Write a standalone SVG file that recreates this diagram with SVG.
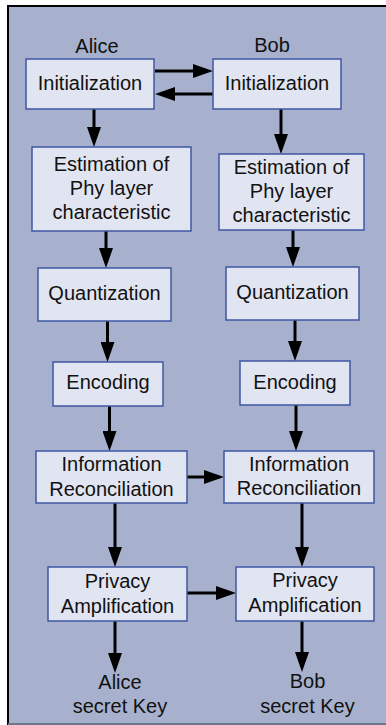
<svg xmlns="http://www.w3.org/2000/svg" width="386" height="725" viewBox="0 0 386 725">
<defs>
<style>
.bg{fill:#a7b1cd}
.box{fill:#e1e5f1;stroke:#3f57a3;stroke-width:1.5}
text{font-family:"Liberation Sans",Arial,sans-serif;font-size:20px;fill:#111;text-anchor:middle}
.c{stroke:#000;stroke-width:3;fill:none;marker-end:url(#ah)}
</style>
<marker id="ah" markerUnits="userSpaceOnUse" markerWidth="20" markerHeight="14" refX="0" refY="7" orient="auto" viewBox="0 0 20 14">
<path d="M0,0 L20,7 L0,14 z" fill="#000"/>
</marker>
</defs>
<rect x="0" y="0" width="386" height="725" fill="#fff"/>
<rect class="bg" x="8" y="6" width="378" height="719"/>
<line x1="8" y1="6" x2="386" y2="6" stroke="#000" stroke-width="2"/>
<line x1="8" y1="5" x2="8" y2="725" stroke="#000" stroke-width="2"/>
<line x1="8" y1="724" x2="386" y2="724" stroke="#6e7588" stroke-width="2"/>
<text x="97" y="53">Alice</text>
<text x="272" y="52">Bob</text>

<g id="connectors">
<line class="c" x1="155" y1="71" x2="193" y2="71"/>
<line class="c" x1="213" y1="94" x2="175" y2="94"/>
<line class="c" x1="94" y1="109" x2="94" y2="127"/>
<line class="c" x1="281" y1="109" x2="281" y2="134"/>
<line class="c" x1="106" y1="231" x2="106" y2="248"/>
<line class="c" x1="293" y1="230" x2="293" y2="247"/>
<line class="c" x1="107.5" y1="321" x2="107.5" y2="342"/>
<line class="c" x1="295" y1="320" x2="295" y2="341"/>
<line class="c" x1="109.5" y1="406" x2="109.5" y2="431"/>
<line class="c" x1="296" y1="405" x2="296" y2="431"/>
<line class="c" x1="187" y1="477" x2="204" y2="477"/>
<line class="c" x1="115" y1="503" x2="115" y2="547"/>
<line class="c" x1="302" y1="503" x2="302" y2="547"/>
<line class="c" x1="187" y1="593" x2="216" y2="593"/>
<line class="c" x1="115" y1="621" x2="115" y2="653"/>
<line class="c" x1="302" y1="621" x2="302" y2="652"/>
</g>

<g id="alice-init"><rect class="box" x="26" y="59" width="128" height="50"/><text x="90" y="90">Initialization</text></g>
<g id="bob-init"><rect class="box" x="213" y="59" width="128" height="50"/><text x="277" y="90">Initialization</text></g>

<g id="alice-est"><rect class="box" x="32" y="147" width="159" height="84"/>
<text x="111.5" y="171">Estimation of</text><text x="111.5" y="195">Phy layer</text><text x="111.5" y="219">characteristic</text></g>
<g id="bob-est"><rect class="box" x="219" y="154" width="145" height="76"/>
<text x="291.5" y="174">Estimation of</text><text x="291.5" y="198">Phy layer</text><text x="291.5" y="222">characteristic</text></g>

<g id="alice-quant"><rect class="box" x="38" y="268" width="133" height="53"/><text x="104.5" y="300">Quantization</text></g>
<g id="bob-quant"><rect class="box" x="226" y="267" width="133" height="53"/><text x="292.5" y="299">Quantization</text></g>

<g id="alice-enc"><rect class="box" x="53" y="362" width="110" height="44"/><text x="108" y="389">Encoding</text></g>
<g id="bob-enc"><rect class="box" x="240" y="361" width="110" height="44"/><text x="295" y="389">Encoding</text></g>

<g id="alice-ir"><rect class="box" x="36" y="451" width="151" height="52"/><text x="111.5" y="471">Information</text><text x="111.5" y="496">Reconciliation</text></g>
<g id="bob-ir"><rect class="box" x="224" y="451" width="150" height="52"/><text x="299" y="471">Information</text><text x="299" y="495">Reconciliation</text></g>

<g id="alice-pa"><rect class="box" x="48" y="567" width="139" height="54"/><text x="117.5" y="588">Privacy</text><text x="117.5" y="613">Amplification</text></g>
<g id="bob-pa"><rect class="box" x="236" y="567" width="138" height="54"/><text x="305" y="587">Privacy</text><text x="305" y="612">Amplification</text></g>

<g id="alice-key"><text x="120" y="689">Alice</text><text x="120" y="713">secret Key</text></g>
<g id="bob-key"><text x="307.5" y="688">Bob</text><text x="307.5" y="713">secret Key</text></g>
</svg>
